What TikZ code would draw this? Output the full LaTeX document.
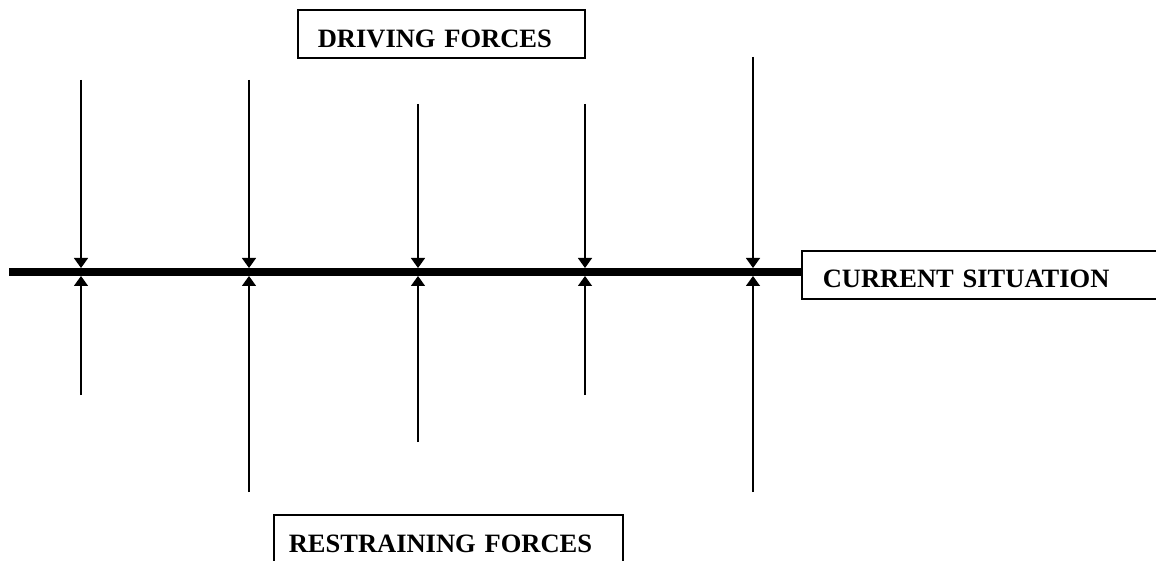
\documentclass[tikz,border=0pt]{standalone}
\usepackage{fontspec}
\setmainfont{Liberation Serif}
\usetikzlibrary{arrows.meta}
\begin{document}
\begin{tikzpicture}[x=1pt,y=-1pt,
  labelbox/.style={draw,line width=1.6pt,anchor=north west,inner ysep=0pt,
    align=left,font=\fontsize{26.5}{30}\selectfont\bfseries,
    text height=37.5pt,text depth=11pt},
  force/.style={line width=1.4pt,-{Triangle[width=14pt,length=10pt]}},
  statusline/.style={line width=8pt}]
\useasboundingbox (0,0) rectangle (1156,561);
\clip (0,0) rectangle (1156,561);

% labelled boxes
\node[labelbox,inner xsep=20pt,text width=247pt] (driving) at (297,9) {DRIVING FORCES};
\node[labelbox,inner xsep=21pt,text width=330pt,text height=37pt] (current) at (801,250) {CURRENT SITUATION};
\node[labelbox,inner xsep=15pt,text width=319pt,text height=38pt] (restraining) at (273,514) {RESTRAINING FORCES};

% the present state as a heavy horizontal bar
\coordinate (start) at (9,272);
\draw[statusline] (start) -- (start -| current.west);

% opposing forces pushing on the bar
\foreach \i/\x/\t/\b in {1/81/80/395, 2/249/80/492, 3/418/104/442, 4/585/104/395, 5/753/57/492} {
  \coordinate (drive\i) at (\x,\t);
  \coordinate (hit\i) at (\x,268);
  \coordinate (restrain\i) at (\x,\b);
  \coordinate (push\i) at (\x,276);
  \draw[force] (drive\i) -- (hit\i);
  \draw[force] (restrain\i) -- (push\i);
}
\end{tikzpicture}
\end{document}
